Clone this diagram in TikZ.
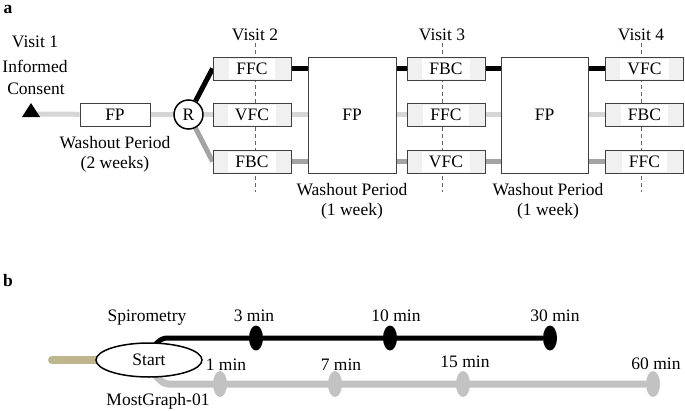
\documentclass[tikz,border=0pt]{standalone}
\usepackage{fontspec}
\setmainfont{Liberation Serif}
\usetikzlibrary{backgrounds,shapes.geometric}
\definecolor{lgray}{HTML}{D6D6D6}
\definecolor{mgray}{HTML}{A3A3A3}
\definecolor{mkgray}{HTML}{C2C2C2}
\definecolor{tanc}{HTML}{C0B68E}
\definecolor{boxfill}{HTML}{F0F0F0}
\begin{document}
\begin{tikzpicture}[x=1pt,y=-1pt,
  every node/.style={font=\fontsize{17.5}{20}\selectfont},
  txt/.style={anchor=base,inner sep=0pt},
  visitbox/.style={draw=black!75,line width=0.8pt,fill=boxfill,minimum width=78,minimum height=23,inner sep=0pt},
  boxtext/.style={fill=white,inner xsep=7,inner ysep=0pt,minimum height=20},
  fpbox/.style={draw=black!75,line width=0.8pt,fill=white,minimum height=116,inner sep=0pt},
  vdash/.style={draw=black!60,line width=0.8pt,dash pattern=on 4pt off 3pt},
  blk/.style={draw=black,line width=5pt},
  lgt/.style={draw=lgray,line width=5pt},
  mid/.style={draw=mgray,line width=5pt},
  bmark/.style={ellipse,fill=black,minimum width=14,minimum height=25,inner sep=0pt},
  gmark/.style={ellipse,fill=mkgray,minimum width=14,minimum height=26,inner sep=0pt}]
\useasboundingbox (0,0) rectangle (685,410);

% ---------- part a ----------
\node[txt,font=\fontsize{17.5}{20}\selectfont\bfseries] (la) at (8,13) {a};
\node[txt] (v1) at (35,47) {Visit 1};
\node[txt] (ic1) at (35,72) {Informed};
\node[txt] (ic2) at (36,94) {Consent};
\fill (22,117) -- (40,117) -- (31,103) -- cycle;
\coordinate (tri) at (36,114);
\node[draw=black!75,line width=0.8pt,fill=white,minimum width=70,minimum height=23,inner sep=0pt] (fp0) at (115,114.5) {FP};
\node[txt] (w0a) at (115,148) {Washout Period};
\node[txt] (w0b) at (115,168) {(2 weeks)};
\node[circle,draw,line width=1.5pt,fill=white,minimum size=29,inner sep=0pt] (R) at (188.5,114.5) {R};

% visit 2
\node[txt] (v2) at (255,40) {Visit 2};
\coordinate (d2t) at (255,43); \coordinate (d2b) at (255,192);
\node[visitbox] (ffc2) at (252,68.5) {}; \node[boxtext] at (ffc2) {FFC};
\node[visitbox] (vfc2) at (252,114.5) {}; \node[boxtext] at (vfc2) {VFC};
\node[visitbox] (fbc2) at (252,161.5) {}; \node[boxtext] at (fbc2) {FBC};
% FP 1
\node[fpbox,minimum width=88] (fp1) at (352,115) {FP};
\node[txt] (w1a) at (352,195) {Washout Period};
\node[txt] (w1b) at (352,215) {(1 week)};
% visit 3
\node[txt] (v3) at (442,40) {Visit 3};
\coordinate (d3t) at (442,43); \coordinate (d3b) at (442,192);
\node[visitbox] (fbc3) at (446,68.5) {}; \node[boxtext] at (fbc3) {FBC};
\node[visitbox] (ffc3) at (446,114.5) {}; \node[boxtext] at (ffc3) {FFC};
\node[visitbox] (vfc3) at (446,161.5) {}; \node[boxtext] at (vfc3) {VFC};
% FP 2
\node[fpbox,minimum width=87] (fp2) at (544.5,115) {FP};
\node[txt] (w2a) at (548,195) {Washout Period};
\node[txt] (w2b) at (548,215) {(1 week)};
% visit 4
\node[txt] (v4) at (641,40) {Visit 4};
\coordinate (d4t) at (641,43); \coordinate (d4b) at (641,192);
\node[visitbox] (vfc4) at (644.5,68.5) {}; \node[boxtext] at (vfc4) {VFC};
\node[visitbox] (fbc4) at (644.5,114.5) {}; \node[boxtext] at (fbc4) {FBC};
\node[visitbox] (ffc4) at (644.5,161.5) {}; \node[boxtext] at (ffc4) {FFC};

\begin{scope}[on background layer]
  \draw[vdash] (d2t) -- (d2b);
  \draw[vdash] (d3t) -- (d3b);
  \draw[vdash] (d4t) -- (d4b);
  \draw[lgt] (tri) -- (fp0) -- (R);
  \draw[blk] (R) -- (ffc2.west);
  \draw[lgt] (R) -- (vfc2.west);
  \draw[mid] (R) -- (fbc2.west);
  \draw[blk] (ffc2.east) -- (ffc2.east -| fp1.west);
  \draw[lgt] (vfc2.east) -- (vfc2.east -| fp1.west);
  \draw[mid] (fbc2.east) -- (fbc2.east -| fp1.west);
  \draw[blk] (fbc3.west -| fp1.east) -- (fbc3.west);
  \draw[lgt] (ffc3.west -| fp1.east) -- (ffc3.west);
  \draw[mid] (vfc3.west -| fp1.east) -- (vfc3.west);
  \draw[blk] (fbc3.east) -- (fbc3.east -| fp2.west);
  \draw[lgt] (ffc3.east) -- (ffc3.east -| fp2.west);
  \draw[mid] (vfc3.east) -- (vfc3.east -| fp2.west);
  \draw[blk] (vfc4.west -| fp2.east) -- (vfc4.west);
  \draw[lgt] (fbc4.west -| fp2.east) -- (fbc4.west);
  \draw[mid] (ffc4.west -| fp2.east) -- (ffc4.west);
\end{scope}

% ---------- part b ----------
\node[txt,font=\fontsize{17.5}{20}\selectfont\bfseries] (lb) at (8,286) {b};
\node[txt] (spi) at (147,321) {Spirometry};
\node[txt] (mg) at (158,405) {MostGraph-01};
\node[ellipse,draw,line width=1.5pt,fill=white,minimum width=106,minimum height=34,inner sep=0pt] (start) at (149,360) {Start};
\coordinate (tan0) at (52,360);
\coordinate (sp0) at (148,352);
\coordinate (sp1) at (162,338);
\coordinate (mg0) at (148,368);
\coordinate (mg1) at (164,384);
\node[bmark] (m3) at (256,338) {};
\node[bmark] (m10) at (390,338) {};
\node[bmark] (m30) at (550,338) {};
\node[gmark] (m1) at (220,384) {};
\node[gmark] (m7) at (335,384) {};
\node[gmark] (m15) at (463,384) {};
\node[gmark] (m60) at (653,384) {};
\node[txt] (t3) at (254,321) {3 min};
\node[txt] (t10) at (396,321) {10 min};
\node[txt] (t30) at (555,321) {30 min};
\node[txt] (t1) at (226,370) {1 min};
\node[txt] (t7) at (341,370) {7 min};
\node[txt] (t15) at (465,367) {15 min};
\node[txt] (t60) at (656,369) {60 min};
\begin{scope}[on background layer]
  \draw[draw=tanc,line width=8pt,line cap=round] (tan0) -- (start.west);
  \draw[blk,rounded corners=5pt] (sp0) -- (sp1) -- (m30);
  \draw[draw=mkgray,line width=7pt,rounded corners=5pt] (mg0) -- (mg1) -- (m60);
\end{scope}
\end{tikzpicture}
\end{document}
